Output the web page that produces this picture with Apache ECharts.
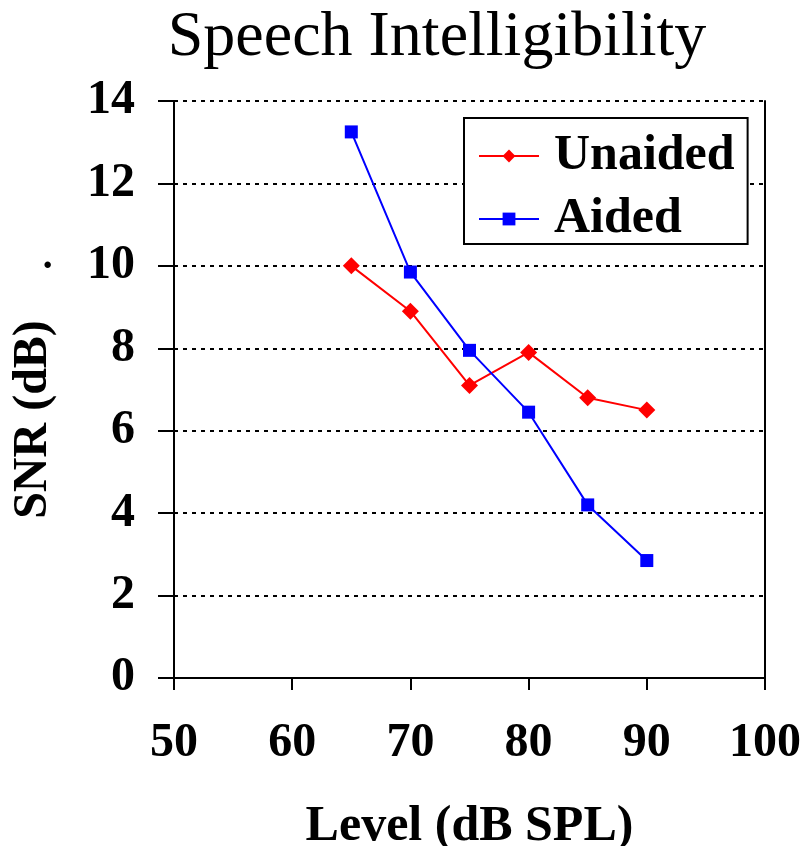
<!DOCTYPE html>
<html>
<head>
<meta charset="utf-8">
<script src="https://cdn.jsdelivr.net/npm/echarts@6/dist/echarts.min.js"></script>
<style>
  html, body { margin: 0; padding: 0; background: #fff; }
  #chart { width: 807px; height: 846px; }
</style>
</head>
<body>
<div id="chart"></div>
<script>
const LEVELS = [65, 70, 75, 80, 85, 90];
const UNAIDED = [10.0, 8.9, 7.1, 7.9, 6.8, 6.5];
const AIDED = [13.25, 9.85, 7.95, 6.45, 4.2, 2.85];

const FONT = "'Liberation Serif', 'Times New Roman', serif";

const chart = echarts.init(document.getElementById("chart"), null, { renderer: "canvas" });

function pairs(values) {
  return LEVELS.map((x, i) => [x, values[i]]);
}

chart.setOption({
  animation: false,
  backgroundColor: "#fff",
  title: {
    text: "Speech Intelligibility",
    left: 432,
    top: 1,
    textAlign: "center",
    textStyle: { fontFamily: FONT, fontSize: 64, fontWeight: "normal", color: "#000" },
  },
  graphic: [
    {
      type: "text",
      left: 41,
      top: 248,
      style: { text: "·", font: "bold 40px " + FONT, fill: "#000" },
    },
  ],
  legend: {
    left: 464,
    top: 118,
    orient: "vertical",
    backgroundColor: "#fff",
    borderColor: "#000",
    borderWidth: 2,
    borderRadius: 0,
    padding: [13, 13, 0, 14],
    itemGap: 13,
    itemWidth: 60,
    itemHeight: 16,
    textStyle: {
      fontFamily: FONT,
      fontSize: 50,
      fontWeight: "bold",
      color: "#000",
      padding: [0, 0, 0, 10],
    },
    data: ["Unaided", "Aided"],
  },
  grid: { left: 174, right: 42, top: 101, bottom: 168, outerBoundsMode: "none" },
  xAxis: {
    type: "value",
    min: 50,
    max: 100,
    interval: 10,
    name: "Level (dB SPL)",
    nameLocation: "middle",
    nameGap: 124,
    nameTextStyle: { fontFamily: FONT, fontSize: 50, fontWeight: "bold", color: "#000" },
    axisLine: { show: true, lineStyle: { color: "#000", width: 2 } },
    axisTick: { show: true, inside: false, length: 12, lineStyle: { color: "#000", width: 2 } },
    axisLabel: { margin: 42, fontFamily: FONT, fontSize: 48, fontWeight: "bold", color: "#000" },
    splitLine: { show: false },
  },
  yAxis: [
    {
      type: "value",
      min: 0,
      max: 14,
      interval: 2,
      name: "SNR (dB)",
      nameLocation: "middle",
      nameGap: 116,
      nameRotate: 90,
      nameTextStyle: {
        fontFamily: FONT,
        fontSize: 48,
        fontWeight: "bold",
        color: "#000",
        padding: [0, 60, 0, 0],
      },
      axisLine: { show: true, lineStyle: { color: "#000", width: 2 } },
      axisTick: { show: true, inside: false, length: 16, lineStyle: { color: "#000", width: 2 } },
      axisLabel: { margin: 39, fontFamily: FONT, fontSize: 48, fontWeight: "bold", color: "#000" },
      splitLine: { show: true, lineStyle: { color: "#000", width: 2, type: [4, 5] } },
    },
    {
      type: "value",
      position: "right",
      min: 0,
      max: 14,
      interval: 2,
      axisLine: { show: true, lineStyle: { color: "#000", width: 2 } },
      axisTick: { show: false },
      axisLabel: { show: false },
      splitLine: { show: false },
    },
  ],
  series: [
    {
      name: "Unaided",
      type: "line",
      data: pairs(UNAIDED),
      symbol: "diamond",
      symbolSize: 17,
      color: "#ff0000",
      lineStyle: { color: "#ff0000", width: 2 },
      itemStyle: { color: "#ff0000" },
      z: 3,
    },
    {
      name: "Aided",
      type: "line",
      data: pairs(AIDED),
      symbol: "rect",
      symbolSize: 13,
      color: "#0000ff",
      lineStyle: { color: "#0000ff", width: 2 },
      itemStyle: { color: "#0000ff" },
      z: 4,
    },
  ],
});
</script>
</body>
</html>
